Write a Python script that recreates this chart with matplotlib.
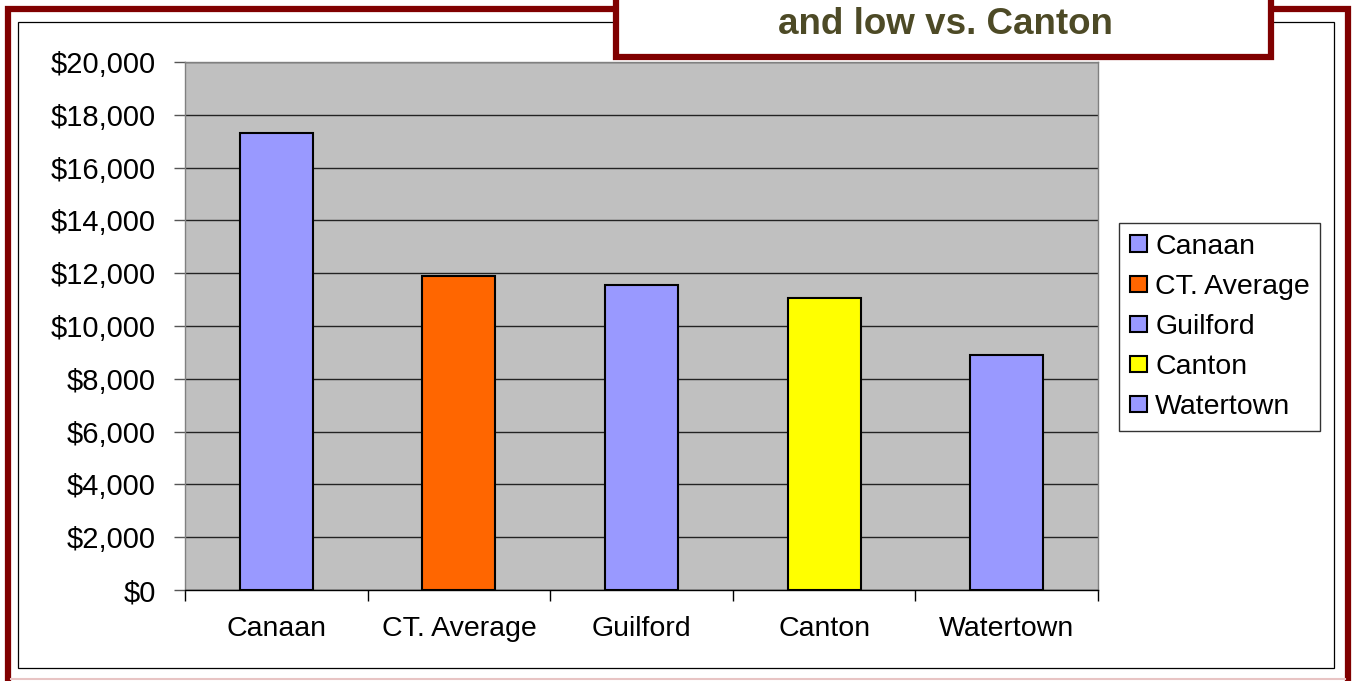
import matplotlib.pyplot as plt
from matplotlib.patches import Rectangle, Patch
from matplotlib.lines import Line2D
from matplotlib.ticker import FuncFormatter, FixedLocator

# data
towns = ['Canaan', 'CT. Average', 'Guilford', 'Canton', 'Watertown']
values = [17300, 11900, 11550, 11050, 8900]
bar_colors = ['#9999FF', '#FF6600', '#9999FF', '#FFFF00', '#9999FF']
title_text = 'and low vs. Canton'

W, H = 1355, 681
plt.rcParams['font.family'] = ['Liberation Sans', 'DejaVu Sans']


def fx(px):
    return px / W


def fy(py):
    return 1 - py / H


fig = plt.figure(figsize=(W / 100, H / 100), dpi=100)
fig.patch.set_facecolor('white')

# outer maroon border
fig.add_artist(Rectangle((fx(8), fy(686)), fx(1348) - fx(8), fy(9) - fy(686),
                         transform=fig.transFigure, fill=False,
                         edgecolor='#800000', linewidth=4.5, zorder=1))
fig.add_artist(Line2D([fx(11), fx(1345)], [fy(678.5), fy(678.5)],
                      transform=fig.transFigure, color='#E8C4C4', linewidth=1.5))
# thin chart frame
fig.add_artist(Rectangle((fx(18), fy(668)), fx(1334) - fx(18), fy(22) - fy(668),
                         transform=fig.transFigure, fill=False,
                         edgecolor='black', linewidth=0.9, zorder=1))

# plot area
ax = fig.add_axes([fx(185), fy(590), fx(1098) - fx(185), fy(62) - fy(590)])
ax.set_facecolor('#C0C0C0')
x = list(range(len(towns)))
ax.bar(x, values, width=0.4, color=bar_colors, edgecolor='black', linewidth=1.5, zorder=3)

ax.set_xlim(-0.5, len(towns) - 0.5)
ax.set_ylim(0, 20000)
ax.set_yticks(range(0, 20001, 2000))
ax.yaxis.set_major_formatter(FuncFormatter(lambda v, p: f'${v:,.0f}'))
ax.grid(axis='y', color='#222222', linewidth=1, zorder=1)
ax.set_axisbelow(True)

ax.set_xticks(x)
ax.set_xticklabels(towns)
ax.xaxis.set_minor_locator(FixedLocator([i - 0.5 for i in range(len(towns) + 1)]))
ax.tick_params(axis='x', which='major', length=0, pad=19, labelsize=20.5)
ax.tick_params(axis='x', which='minor', length=8, width=1, color='black', direction='out')
ax.tick_params(axis='y', length=8, width=1, color='#555555', pad=13, labelsize=21)

for side in ['left', 'top', 'right']:
    ax.spines[side].set_color('#808080')
    ax.spines[side].set_linewidth(1)
ax.spines['bottom'].set_color('black')
ax.spines['bottom'].set_linewidth(1)

# legend
handles = [Patch(facecolor=c, edgecolor='black', linewidth=1.5) for c in bar_colors]
leg = fig.legend(handles, towns, loc='upper left', bbox_to_anchor=(fx(1119), fy(223)),
                 bbox_transform=fig.transFigure, frameon=True, fancybox=False,
                 edgecolor='black', fontsize=20.5, handlelength=0.6, handleheight=0.5,
                 handletextpad=0.3, labelspacing=0.5, borderpad=0.37, borderaxespad=0)
leg.get_frame().set_linewidth(1)

# title box (top cut off in the reference)
fig.add_artist(Rectangle((fx(616), fy(57)), fx(1271) - fx(616), fy(-20) - fy(57),
                         transform=fig.transFigure, facecolor='white',
                         edgecolor='#800000', linewidth=4.5, zorder=5))
fig.text(fx(945), fy(25), title_text, ha='center', va='center', fontsize=26.5,
         fontweight='bold', color='#4D4A26', zorder=6)

fig.savefig('out.png', dpi=100)
